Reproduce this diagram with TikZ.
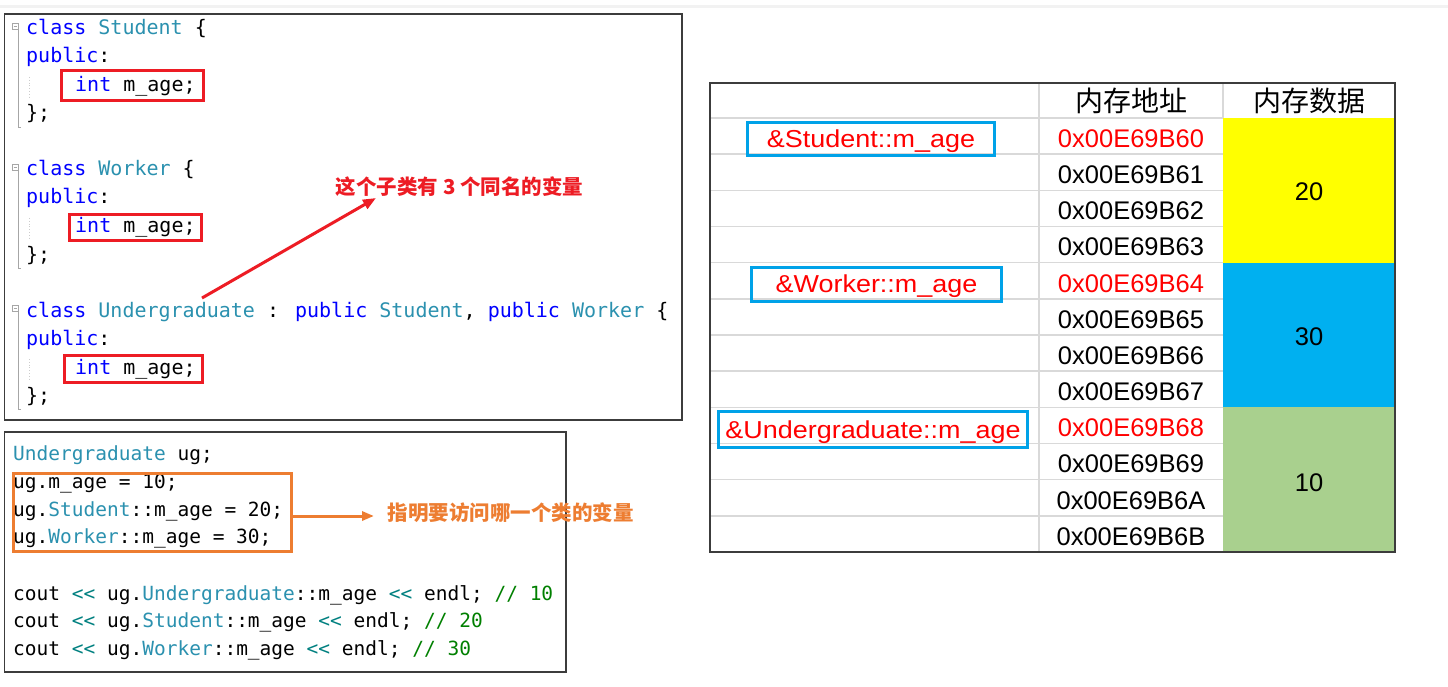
\documentclass[tikz,border=0pt]{standalone}
\usepackage{fontspec}
\setmainfont{Liberation Sans}
\newfontfamily\codefont[Ligatures=TeXOff]{DejaVu Sans Mono}
\newfontfamily\cjk{Noto Sans CJK SC}
\newfontfamily\lblfont[FakeStretch=1.1]{Liberation Sans}
\usetikzlibrary{arrows.meta}
\definecolor{kwC}{RGB}{0,0,255}
\definecolor{tyC}{RGB}{43,145,175}
\definecolor{cmC}{RGB}{0,128,0}
\definecolor{opC}{RGB}{0,128,128}
\definecolor{redC}{RGB}{237,28,36}
\definecolor{orC}{RGB}{237,125,49}
\definecolor{blueC}{RGB}{0,162,232}
\definecolor{gridC}{RGB}{217,217,217}
\definecolor{yelC}{RGB}{255,255,0}
\definecolor{cyanC}{RGB}{0,176,240}
\definecolor{grnC}{RGB}{169,208,142}
\definecolor{frameC}{RGB}{60,60,60}
\definecolor{pureRed}{RGB}{255,0,0}
\newcommand\cKw[1]{\textcolor{kwC}{#1}}
\newcommand\cTy[1]{\textcolor{tyC}{#1}}
\newcommand\cCm[1]{\textcolor{cmC}{#1}}
\newcommand\cOp[1]{\textcolor{opC}{#1}}
\begin{document}
\begin{tikzpicture}[x=1pt,y=-1pt,
  code/.style={anchor=base west,inner sep=0pt,font=\codefont\fontsize{20}{24}\selectfont},
  codeb/.style={anchor=base west,inner sep=0pt,font=\codefont\fontsize{19.5}{24}\selectfont},
  rbox/.style={draw=redC,line width=3pt,inner sep=0pt},
  obox/.style={draw=orC,line width=3pt,inner sep=0pt},
  bbox/.style={draw=blueC,line width=3pt,inner sep=0pt,text=pureRed,
    font=\lblfont\fontsize{24.5}{28}\selectfont,text height=17.5pt,text depth=0pt},
  panel/.style={draw=frameC,line width=1.4pt},
  addr/.style={inner sep=0pt,font=\fontsize{25.5}{28}\selectfont},
  hdr/.style={inner sep=0pt,font=\cjk\fontsize{28}{32}\selectfont},
  note/.style={inner sep=0pt,font=\cjk\bfseries\fontsize{20.5}{24}\selectfont},
  fold/.style={draw=gray!70,line width=0.8pt},
  guide/.style={draw=gray!40,line width=0.8pt,dotted},
  redarrow/.style={draw=redC,line width=3pt,-{Triangle[length=13pt,width=10pt]}},
  orarrow/.style={draw=orC,line width=3pt,-{Triangle[length=12pt,width=9pt]}}
]
\useasboundingbox (0,0) rectangle (1448,687);
\fill[white] (0,0) rectangle (1448,687);
\draw[line width=3pt,draw=gray!10] (0,6.5) -- (1448,6.5);

% ---------- top code panel ----------
\draw[panel] (4.5,14) rectangle (682,420);
\foreach \b in {35,176,317}{
  \draw[fold] (12,\b-12) rectangle (18,\b-6);
  \draw[fold] (13.5,\b-9) -- (16.5,\b-9);
  \draw[fold] (18,\b-6) -- (18,\b+92) -- (21,\b+92);
  \draw[guide] (29,\b+42) -- (29,\b+64);
}
\node[code] (t1) at (26,35) {\cKw{class} \cTy{Student} \{};
\node[code] (t2) at (26,63) {\cKw{public}:};
\node[code] (t3) at (75,92) {\cKw{int} m\_age;};
\node[code] (t4) at (26,120) {\};};
\node[code] (t5) at (26,176) {\cKw{class} \cTy{Worker} \{};
\node[code] (t6) at (26,204) {\cKw{public}:};
\node[code] (t7) at (75,233) {\cKw{int} m\_age;};
\node[code] (t8) at (26,261) {\};};
\node[code] (t9) at (26,317) {\cKw{class} \cTy{Undergraduate} : \cKw{public} \cTy{Student}, \cKw{public} \cTy{Worker} \{};
\node[code] (t10) at (26,345) {\cKw{public}:};
\node[code] (t11) at (75,374) {\cKw{int} m\_age;};
\node[code] (t12) at (26,402) {\};};

\node[rbox,minimum width=142pt,minimum height=30pt] (rb1) at (132,86) {};
\node[rbox,minimum width=132pt,minimum height=25pt] (rb2) at (135,227.5) {};
\node[rbox,minimum width=138pt,minimum height=27pt] (rb3) at (133,369) {};

\node[note,text=redC] (lab1) at (459.5,186.5) {这个子类有 3 个同名的变量};
\coordinate (a1s) at (202,298);
\coordinate (a1e) at (376,198);
\draw[redarrow] (a1s) -- (a1e);

% ---------- bottom code panel ----------
\draw[panel] (4.5,432) rectangle (566,672);
\node[codeb] (b1) at (13,460) {\cTy{Undergraduate} ug;};
\node[codeb] (b2) at (13,488) {ug.m\_age = 10;};
\node[codeb] (b3) at (13,516) {ug.\cTy{Student}::m\_age = 20;};
\node[codeb] (b4) at (13,543) {ug.\cTy{Worker}::m\_age = 30;};
\node[codeb] (b5) at (13,600) {cout \cOp{<<} ug.\cTy{Undergraduate}::m\_age \cOp{<<} endl; \cCm{// 10}};
\node[codeb] (b6) at (13,627) {cout \cOp{<<} ug.\cTy{Student}::m\_age \cOp{<<} endl; \cCm{// 20}};
\node[codeb] (b7) at (13,655) {cout \cOp{<<} ug.\cTy{Worker}::m\_age \cOp{<<} endl; \cCm{// 30}};

\node[obox,minimum width=278pt,minimum height=78pt] (ob) at (152,512) {};
\node[note,text=orC] (lab2) at (510.5,513) {指明要访问哪一个类的变量};
\coordinate (a2e) at (374,516);
\draw[orarrow] (ob.east |- a2e) -- (a2e);

% ---------- memory table ----------
\fill[yelC] (1223,118) rectangle (1395,262.7);
\fill[cyanC] (1223,262.7) rectangle (1395,407.3);
\fill[grnC] (1223,407.3) rectangle (1395,552);
\foreach \k in {1,...,11}{
  \draw[gridC,line width=1.4pt] (710,118+36.1667*\k) -- (1223,118+36.1667*\k);
}
\draw[gridC,line width=1.4pt] (710,118) -- (1223,118);
\draw[gridC,line width=1.4pt] (1039,83) -- (1039,552);
\draw[gridC,line width=1.4pt] (1223,83) -- (1223,118);
\draw[frameC,line width=1.4pt] (710,83) rectangle (1395,552);

\node[hdr] (h1) at (1131,101) {内存地址};
\node[hdr] (h2) at (1309,101) {内存数据};

\node[addr,text=pureRed] (m0) at (1131,138.6) {0x00E69B60};
\node[addr] (m1) at (1131,174.8) {0x00E69B61};
\node[addr] (m2) at (1131,210.9) {0x00E69B62};
\node[addr] (m3) at (1131,247.1) {0x00E69B63};
\node[addr,text=pureRed] (m4) at (1131,283.3) {0x00E69B64};
\node[addr] (m5) at (1131,319.4) {0x00E69B65};
\node[addr] (m6) at (1131,355.6) {0x00E69B66};
\node[addr] (m7) at (1131,391.8) {0x00E69B67};
\node[addr,text=pureRed] (m8) at (1131,427.9) {0x00E69B68};
\node[addr] (m9) at (1131,464.1) {0x00E69B69};
\node[addr] (m10) at (1131,500.3) {0x00E69B6A};
\node[addr] (m11) at (1131,536.4) {0x00E69B6B};

\node[addr] (v1) at (1309,192) {20};
\node[addr] (v2) at (1309,337) {30};
\node[addr] (v3) at (1309,483) {10};

\node[bbox,minimum width=247pt,minimum height=33pt] (l1) at (871,139) {\&Student::m\_age};
\node[bbox,minimum width=250pt,minimum height=34pt] (l2) at (876.5,284) {\&Worker::m\_age};
\node[bbox,minimum width=309pt,minimum height=36pt] (l3) at (873,429.5) {\&Undergraduate::m\_age};
\end{tikzpicture}
\end{document}
